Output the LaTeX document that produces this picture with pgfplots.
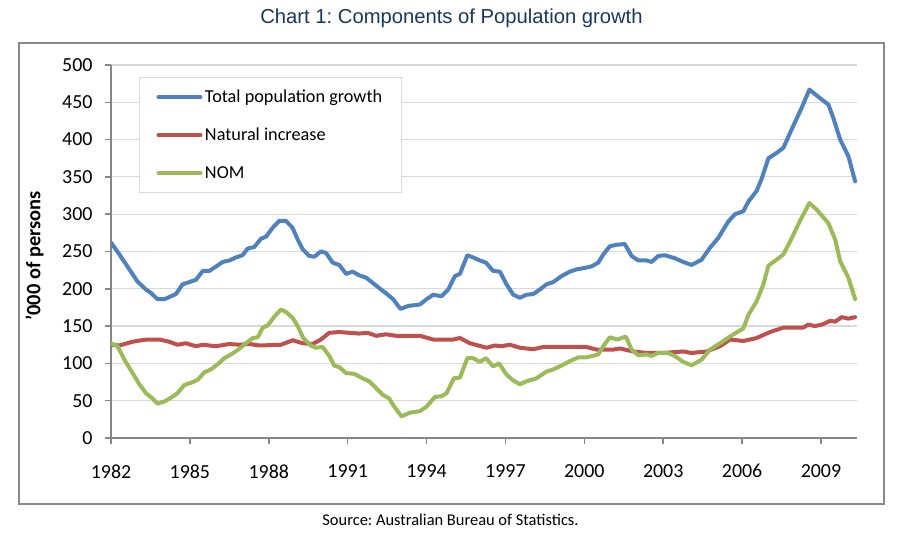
\documentclass[border=0pt]{standalone}
\usepackage{pgfplots}
\pgfplotsset{compat=1.18}
\usepackage{fontspec}
\setmainfont{Carlito}
\newfontfamily\titlefont{Liberation Sans}
\definecolor{cblue}{RGB}{79,129,189}
\definecolor{cred}{RGB}{192,80,77}
\definecolor{cgreen}{RGB}{155,187,89}
\definecolor{titleblue}{RGB}{23,55,94}
\definecolor{axisgray}{RGB}{134,134,134}
\definecolor{framegray}{RGB}{136,136,136}
\definecolor{gridgray}{RGB}{217,217,217}
\frenchspacing
\begin{document}
\begin{tikzpicture}
\useasboundingbox (0bp,0bp) rectangle (904bp,542bp);
\draw[line width=1.5bp, color=framegray] (19bp,499bp) rectangle (884bp,38bp);
\node[font=\titlefont\fontsize{20.3}{22}\selectfont, text=titleblue, anchor=base] at (451.5bp,518bp) {Chart 1: Components of Population growth};
\node[font=\fontsize{16.5}{18}\selectfont, anchor=base] at (450.5bp,17bp) {Source: Australian Bureau of Statistics.};
\node[font=\bfseries\fontsize{20.5}{22}\selectfont, rotate=90, anchor=center] at (34.5bp,286bp) {'000 of persons};
\begin{axis}[
  at={(111bp,104bp)}, anchor=south west,
  scale only axis, width=746bp, height=373bp,
  xmin=1982, xmax=2010.37, ymin=0, ymax=500,
  xtick={1982,1985,1988,1991,1994,1997,2000,2003,2006,2009},
  ytick={0,50,100,150,200,250,300,350,400,450,500},
  /pgf/number format/assume math mode=true,
  /pgf/number format/1000 sep={},
  tick label style={font=\fontsize{20}{22}\selectfont},
  xticklabel style={yshift=-17bp},
  yticklabel style={xshift=-9bp},
  axis lines*=left,
  axis line style={color=axisgray, line width=1.5bp},
  tick align=outside, major tick length=6bp,
  tick style={color=axisgray, line width=1.5bp},
  ymajorgrids, grid style={color=gridgray, line width=1.2bp},
  legend cell align=left,
  legend image code/.code={\draw[#1] (0bp,0bp) -- (42bp,0bp);},
  legend style={at={(0.0375,0.968)}, anchor=north west, draw=gridgray, line width=1bp,
    font=\fontsize{18.3}{20}\selectfont, inner xsep=17bp, inner ysep=10bp, row sep=19bp,
    nodes={inner sep=2.5bp}},
  every axis plot/.append style={line width=4bp, line join=round, line cap=round},
]
\addplot[color=cblue] coordinates {
(1982.0,262) (1982.32,246) (1982.7,226) (1983.0,210) (1983.33,199) (1983.5,195) (1983.77,186) (1984.03,186) (1984.47,193) (1984.72,206) (1984.98,209) (1985.23,212) (1985.49,224) (1985.74,224) (1986.0,230) (1986.25,236) (1986.5,238) (1986.75,242) (1987.0,245) (1987.2,254) (1987.45,256) (1987.7,267) (1987.9,270) (1988.15,282) (1988.4,291) (1988.65,291) (1988.9,282) (1989.1,266) (1989.29,253) (1989.54,244) (1989.73,243) (1989.98,250) (1990.18,248) (1990.43,235) (1990.68,232) (1990.94,220) (1991.19,223) (1991.44,218) (1991.7,215) (1991.95,208) (1992.2,201) (1992.46,194) (1992.73,186) (1993.01,173) (1993.3,177) (1993.75,179) (1994.0,186) (1994.25,192) (1994.57,190) (1994.82,199) (1995.08,217) (1995.27,220) (1995.55,245) (1995.77,242) (1996.03,238) (1996.26,235) (1996.53,224) (1996.79,223) (1997.04,206) (1997.3,192) (1997.55,188) (1997.8,192) (1998.06,193) (1998.31,199) (1998.56,206) (1998.82,209) (1999.13,217) (1999.45,223) (1999.7,226) (2000.02,228) (2000.27,230) (2000.53,235) (2000.72,246) (2000.97,257) (2001.22,259) (2001.54,260) (2001.8,244) (2002.05,238) (2002.37,238) (2002.56,236) (2002.81,244) (2003.06,245) (2003.44,241) (2003.76,236) (2004.08,232) (2004.46,239) (2004.78,255) (2005.09,268) (2005.47,290) (2005.73,300) (2006.05,304) (2006.24,317) (2006.55,331) (2006.74,347) (2007.0,375) (2007.31,382) (2007.57,389) (2007.89,414) (2008.27,443) (2008.56,467) (2008.84,459) (2009.28,447) (2009.47,429) (2009.73,400) (2010.04,378) (2010.3,344)
};
\addlegendentry{Total population growth}
\addplot[color=cred] coordinates {
(1982.0,125) (1982.32,124) (1982.82,129) (1983.33,132) (1983.84,132) (1984.22,129) (1984.53,125) (1984.85,127) (1985.23,123) (1985.49,125) (1985.99,123) (1986.5,126) (1986.88,125) (1987.26,126) (1987.64,124) (1988.46,125) (1988.91,131) (1989.29,127) (1989.67,126) (1989.98,132) (1990.3,141) (1990.68,142) (1991.06,141) (1991.44,140) (1991.76,141) (1992.08,137) (1992.46,139) (1992.84,137) (1993.75,137) (1994.25,132) (1995.01,132) (1995.27,134) (1995.65,127) (1996.28,121) (1996.6,124) (1996.85,123) (1997.17,125) (1997.55,121) (1998.06,119) (1998.44,122) (2000.08,122) (2000.46,118.5) (2001.1,118.5) (2001.35,120) (2001.86,116) (2002.37,114) (2003.0,114) (2003.76,116) (2004.08,114) (2004.65,116) (2005.16,123) (2005.54,132) (2006.05,130) (2006.55,134) (2007.06,142) (2007.57,148) (2008.33,148) (2008.52,152) (2008.77,150) (2009.03,152) (2009.35,157) (2009.54,156) (2009.79,162) (2010.04,160) (2010.3,162)
};
\addlegendentry{Natural increase}
\addplot[color=cgreen] coordinates {
(1982.0,127) (1982.25,123) (1982.51,105) (1982.82,87) (1983.08,72) (1983.33,60) (1983.58,53) (1983.77,46) (1984.03,49) (1984.28,54) (1984.53,60) (1984.79,71) (1985.04,74) (1985.3,78) (1985.55,88) (1985.8,92) (1986.06,99) (1986.31,107) (1986.56,112) (1986.82,118) (1987.13,127) (1987.39,134) (1987.58,135) (1987.77,148) (1987.96,151) (1988.22,163) (1988.46,172) (1988.65,169) (1988.91,161) (1989.1,150) (1989.31,134) (1989.6,124) (1989.79,121) (1990.05,122) (1990.3,110) (1990.49,97) (1990.68,95) (1990.94,87) (1991.25,86) (1991.57,80) (1991.82,76) (1992.08,67) (1992.33,58) (1992.58,53) (1992.77,42) (1993.05,29) (1993.37,34) (1993.75,36) (1994.0,42) (1994.32,55) (1994.57,56) (1994.76,60) (1995.04,80) (1995.27,81) (1995.55,107) (1995.77,107) (1996.03,102) (1996.26,107) (1996.53,96) (1996.76,100) (1997.04,85) (1997.3,77) (1997.55,72) (1997.8,76) (1998.18,80) (1998.56,89) (1998.82,92) (1999.13,97) (1999.45,103) (1999.77,108) (2000.08,108) (2000.53,112) (2000.72,123) (2000.97,135) (2001.25,132) (2001.58,136) (2001.8,118.5) (2002.05,111) (2002.37,112) (2002.56,110) (2002.81,114) (2003.19,114) (2003.44,110) (2003.76,102) (2004.08,97.5) (2004.46,105) (2004.78,118.5) (2005.16,127) (2005.54,136) (2006.05,147) (2006.24,165) (2006.55,183) (2006.81,206) (2007.0,231) (2007.31,239) (2007.57,246) (2007.89,268) (2008.2,291) (2008.56,315) (2008.84,306) (2009.28,288) (2009.54,266) (2009.73,237) (2010.04,215) (2010.3,186)
};
\addlegendentry{NOM}
\end{axis}
\end{tikzpicture}
\end{document}
